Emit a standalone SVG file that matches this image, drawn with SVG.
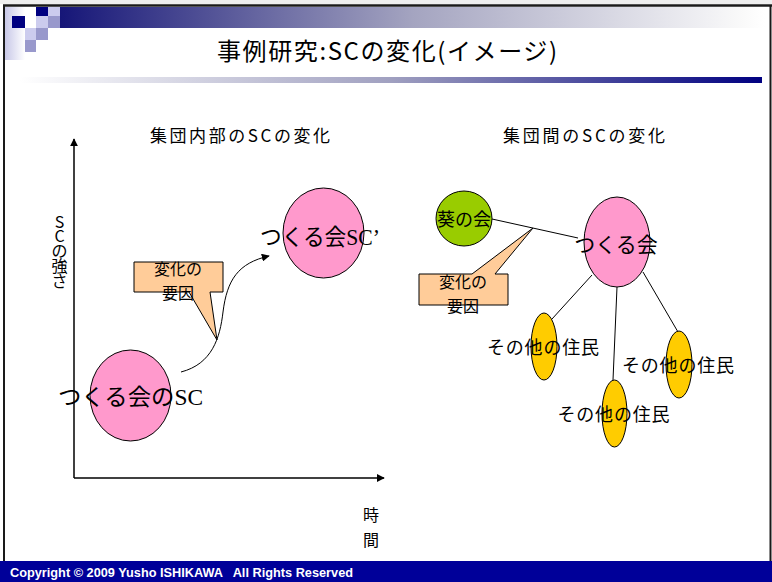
<svg xmlns="http://www.w3.org/2000/svg" width="772" height="582" viewBox="0 0 772 582">
<defs>
<linearGradient id="topbar" x1="0" y1="0" x2="1" y2="0">
<stop offset="0" stop-color="#161678"/>
<stop offset="0.5" stop-color="#a4a4c0"/>
<stop offset="0.97" stop-color="#fafafa"/>
<stop offset="1" stop-color="#ffffff"/>
</linearGradient>
<linearGradient id="botbar" x1="0" y1="0" x2="1" y2="0">
<stop offset="0" stop-color="#ffffff"/>
<stop offset="0.5" stop-color="#a0a0c0"/>
<stop offset="1" stop-color="#000080"/>
</linearGradient>
<linearGradient id="sidebar" x1="0" y1="0" x2="1" y2="0">
<stop offset="0" stop-color="#c8c8e8"/>
<stop offset="1" stop-color="#ffffff"/>
</linearGradient>
<marker id="arr" viewBox="0 0 10 10" refX="9" refY="5" markerWidth="8" markerHeight="8" markerUnits="userSpaceOnUse" orient="auto">
<path d="M0,0 L10,5 L0,10 Z" fill="#000"/>
</marker>
<style>
.jp{font-family:"Noto Sans CJK JP","Noto Sans",sans-serif;fill:#000;}
.mix{font-family:"Liberation Serif","Noto Sans CJK JP",serif;fill:#000;}
.ln{stroke:#000;stroke-width:1;fill:none;}
.ax{stroke:#000;stroke-width:1.5;fill:none;}
.pink{fill:#FF99CC;stroke:#000;stroke-width:1;}
.yel{fill:#FFCC00;stroke:#000;stroke-width:1;}
.grn{fill:#99CC00;stroke:#000;stroke-width:1;}
.call{fill:#FFCC99;stroke:#000;stroke-width:1;}
</style>
</defs>
<rect x="0" y="0" width="772" height="582" fill="#ffffff"/>
<g id="frame">
<rect x="0" y="0" width="772" height="4" fill="#eeeeee"/>
<rect x="5" y="7" width="20" height="53" fill="url(#sidebar)"/>
<rect x="60" y="7" width="705" height="21" fill="url(#topbar)"/>
<rect x="36" y="7" width="12" height="9" fill="#000080"/>
<rect x="48" y="7" width="12" height="9" fill="#ccccee"/>
<rect x="12" y="16" width="13" height="12" fill="#000080"/>
<rect x="36" y="16" width="12" height="12" fill="#ccccee"/>
<rect x="48" y="16" width="12" height="12" fill="#9999cc"/>
<rect x="25" y="28" width="11" height="12" fill="#ccccee"/>
<rect x="36" y="28" width="12" height="12" fill="#9999cc"/>
<rect x="25" y="40" width="11" height="12" fill="#9999cc"/>
<rect x="20" y="77" width="742" height="6" fill="url(#botbar)"/>
<line x1="3" y1="5.5" x2="772" y2="5.5" stroke="#1a1a1a" stroke-width="2.5"/>
<line x1="4" y1="5" x2="4" y2="562" stroke="#1a1a1a" stroke-width="2"/>
<line x1="770.5" y1="5" x2="770.5" y2="582" stroke="#1a1a1a" stroke-width="2"/>
<rect x="0" y="561" width="772" height="21" fill="#000099"/>
<text x="10" y="577" font-family="Liberation Sans, Arial, sans-serif" font-size="12.5" font-weight="bold" fill="#ffffff" style="white-space:pre" textLength="343" lengthAdjust="spacingAndGlyphs">Copyright © 2009 Yusho ISHIKAWA   All Rights Reserved</text>
</g>
<g id="title">
<text class="jp" x="387" y="60" font-size="24" text-anchor="middle" textLength="340" lengthAdjust="spacing">事例研究:SCの変化(イメージ)</text>
</g>
<g id="headings">
<text class="jp" x="240" y="142" font-size="17" text-anchor="middle" textLength="180" lengthAdjust="spacing">集団内部のSCの変化</text>
<text class="jp" x="584" y="142" font-size="17" text-anchor="middle" textLength="162" lengthAdjust="spacing">集団間のSCの変化</text>
</g>
<g id="axis-labels" class="jp" font-size="16" text-anchor="middle">
<text x="59.5 59.5 59.5 59.5 59.5" y="228 242 257 272 287">SCの強さ</text>
<text x="371 371" y="521 546">時間</text>
</g>
<g id="connectors">
<line class="ax" x1="74" y1="478" x2="74" y2="139" marker-end="url(#arr)"/>
<line class="ax" x1="74" y1="478" x2="384" y2="478" marker-end="url(#arr)"/>
<path class="ln" d="M181,372 C212,364 220,338 223,312 C227,280 238,263 269,256" marker-end="url(#arr)"/>
<line class="ln" x1="492" y1="219" x2="578" y2="238"/>
<line class="ln" x1="592" y1="275" x2="552" y2="319"/>
<line class="ln" x1="617" y1="287" x2="613" y2="380"/>
<line class="ln" x1="643" y1="272" x2="678" y2="332"/>
</g>
<g id="node-sc-after">
<ellipse class="pink" cx="323.5" cy="233" rx="40.5" ry="45"/>
<text class="mix" x="320" y="245" font-size="23" text-anchor="middle" textLength="120" lengthAdjust="spacingAndGlyphs">つくる会SC’</text>
</g>
<g id="node-sc-before">
<ellipse class="pink" cx="130.5" cy="395.5" rx="40.5" ry="45.5"/>
<text class="mix" x="130.5" y="405" font-size="23" text-anchor="middle" textLength="145" lengthAdjust="spacingAndGlyphs">つくる会のSC</text>
</g>
<g id="callout-left">
<path class="call" d="M134,262 H223 V292 H210 L217,340 L189,292 H134 Z"/>
<text class="jp" font-size="16" text-anchor="middle"><tspan x="178" y="275">変化の</tspan><tspan x="178" y="298.5">要因</tspan></text>
</g>
<g id="node-aoi">
<ellipse class="grn" cx="464" cy="218.5" rx="28" ry="27.5"/>
<text class="jp" x="464" y="226" font-size="18" text-anchor="middle">葵の会</text>
</g>
<g id="node-tsukuru">
<ellipse class="pink" cx="617" cy="242" rx="33" ry="45"/>
<text class="jp" x="616" y="252" font-size="21" text-anchor="middle">つくる会</text>
</g>
<g id="callout-right">
<path class="call" d="M419,274 H472 L533,228 L495,274 H508 V305 H419 Z"/>
<text class="jp" font-size="16" text-anchor="middle"><tspan x="463" y="288">変化の</tspan><tspan x="463" y="311.5">要因</tspan></text>
</g>
<g id="node-resident-1">
<ellipse class="yel" cx="544" cy="346.5" rx="13" ry="33.5"/>
<text class="jp" x="543" y="354" font-size="18" text-anchor="middle" textLength="112" lengthAdjust="spacing">その他の住民</text>
</g>
<g id="node-resident-2">
<ellipse class="yel" cx="614.5" cy="413.5" rx="12.5" ry="33.5"/>
<text class="jp" x="613.5" y="421" font-size="18" text-anchor="middle" textLength="112" lengthAdjust="spacing">その他の住民</text>
</g>
<g id="node-resident-3">
<ellipse class="yel" cx="679" cy="364.5" rx="13" ry="33.5"/>
<text class="jp" x="678" y="372" font-size="18" text-anchor="middle" textLength="112" lengthAdjust="spacing">その他の住民</text>
</g>
</svg>
